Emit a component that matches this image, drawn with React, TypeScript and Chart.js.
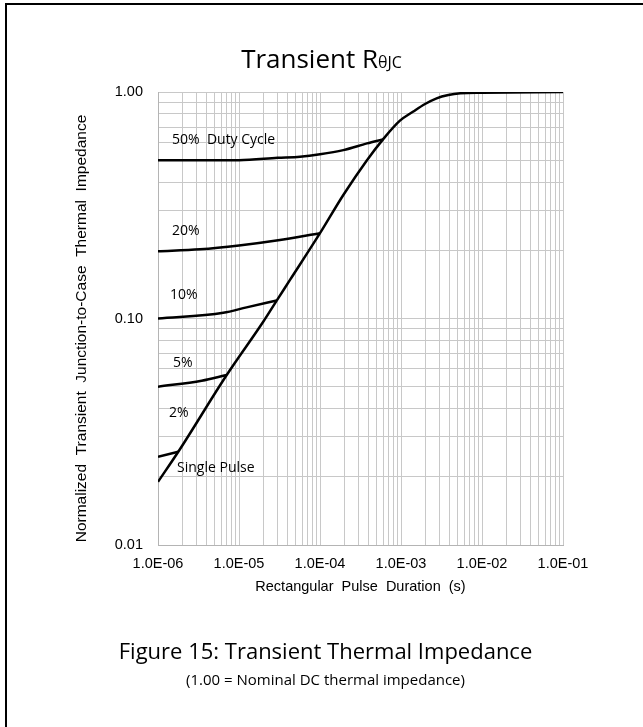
import React, { useEffect, useRef } from "react";
import { Chart, registerables } from "chart.js";

Chart.register(...registerables);

// ---- tick definitions ----
const X_DECADES = [1e-6, 1e-5, 1e-4, 1e-3, 1e-2, 1e-1];
const X_TICK_LABELS = ["1.0E-06", "1.0E-05", "1.0E-04", "1.0E-03", "1.0E-02", "1.0E-01"];
const Y_DECADES = [0.01, 0.1, 1];
const Y_TICK_LABELS = ["0.01", "0.10", "1.00"];
const MINOR_STEPS = [2, 3, 4, 5, 6, 7, 8, 9];

// ---- series (pulse duration s, normalized Zth) ----
const SINGLE_T = [1e-6, 1.78e-6, 7.05e-6, 2.0e-5, 2.92e-5, 4.26e-5, 1e-4, 1.94e-4, 3.8e-4, 6.0e-4, 9.7e-4, 1.42e-3, 1.98e-3, 2.75e-3, 3.84e-3, 5.4e-3, 1e-2, 1e-1];
const SINGLE_Z = [0.019, 0.0258, 0.0563, 0.097, 0.12, 0.148, 0.238, 0.351, 0.5, 0.618, 0.747, 0.82, 0.885, 0.938, 0.97, 0.987, 0.993, 1.0];

const D50_T = [1e-6, 1e-5, 3e-5, 5.66e-5, 1e-4, 1.94e-4, 3.8e-4, 6.0e-4];
const D50_Z = [0.5, 0.5, 0.512, 0.518, 0.531, 0.554, 0.593, 0.618];

const D20_T = [1e-6, 3.3e-6, 1e-5, 3.2e-5, 1e-4];
const D20_Z = [0.198, 0.202, 0.21, 0.222, 0.238];

const D10_T = [1e-6, 6.4e-6, 1.24e-5, 2.92e-5];
const D10_Z = [0.1, 0.106, 0.112, 0.12];

const D5_T = [1e-6, 3.46e-6, 7.05e-6];
const D5_Z = [0.05, 0.0531, 0.0563];

const D2_T = [1e-6, 1.78e-6];
const D2_Z = [0.0245, 0.0258];

// ---- curve annotations ----
const CURVE_LABELS = ["50%  Duty Cycle", "20%", "10%", "5%", "2%", "Single Pulse"];
const LABEL_T = [1.49e-6, 1.49e-6, 1.41e-6, 1.53e-6, 1.37e-6, 1.72e-6];
const LABEL_Z = [0.614, 0.243, 0.127, 0.0636, 0.0383, 0.0219];

const TITLE_MAIN = "Transient R";
const TITLE_SUB = "θJC";
const X_TITLE = "Rectangular  Pulse  Duration  (s)";
const Y_TITLE = "Normalized  Transient  Junction-to-Case  Thermal  Impedance";
const CAPTION = "Figure 15: Transient Thermal Impedance";
const SUBCAPTION = "(1.00 = Nominal DC thermal impedance)";

const AXIS_FONT = '"Liberation Sans", Arial, sans-serif';

function logTicks(decades: number[]) {
  const out: { value: number }[] = [];
  for (let i = 0; i < decades.length - 1; i++) {
    out.push({ value: decades[i] });
    for (const m of MINOR_STEPS) out.push({ value: parseFloat((decades[i] * m).toPrecision(4)) });
  }
  out.push({ value: decades[decades.length - 1] });
  return out;
}

function labelFor(value: number, decades: number[], labels: string[]) {
  for (let i = 0; i < decades.length; i++) {
    if (Math.abs(value / decades[i] - 1) < 1e-6) return labels[i];
  }
  return "";
}

function pts(t: number[], z: number[]) {
  return t.map((v, i) => ({ x: v, y: z[i] }));
}

const curveLabelPlugin = {
  id: "curveLabels",
  afterDatasetsDraw(chart: any) {
    const { ctx, scales } = chart;
    const xs = scales.x;
    const ys = scales.y;
    ctx.save();
    ctx.font = '14px "Open Sans"';
    ctx.fillStyle = "#000";
    ctx.textAlign = "left";
    ctx.textBaseline = "middle";
    CURVE_LABELS.forEach((txt, i) => {
      ctx.fillText(txt, xs.getPixelForValue(LABEL_T[i]), ys.getPixelForValue(LABEL_Z[i]));
    });
    // y-axis title (slightly below the plot's centre, as in the original)
    const ca = chart.chartArea;
    ctx.translate(82, (ca.top + ca.bottom) / 2 + 10);
    ctx.rotate(-Math.PI / 2);
    ctx.font = "15.5px " + AXIS_FONT;
    ctx.textAlign = "center";
    ctx.fillText(Y_TITLE, 0, 0);
    ctx.restore();
  },
};

export default function App() {
  const ref = useRef<HTMLCanvasElement | null>(null);

  useEffect(() => {
    if (!ref.current) return;
    const series = [
      pts(D50_T, D50_Z),
      pts(D20_T, D20_Z),
      pts(D10_T, D10_Z),
      pts(D5_T, D5_Z),
      pts(D2_T, D2_Z),
      pts(SINGLE_T, SINGLE_Z),
    ];
    const chart = new Chart(ref.current, {
      type: "line",
      data: {
        datasets: series.map((d) => ({
          data: d,
          borderColor: "#000",
          borderWidth: 2.5,
          pointRadius: 0,
          fill: false,
          cubicInterpolationMode: "monotone" as const,
        })),
      },
      options: {
        responsive: false,
        animation: false,
        events: [],
        layout: { padding: { top: 92, right: 80, bottom: 122, left: 0 } },
        plugins: { legend: { display: false }, title: { display: false }, tooltip: { enabled: false } },
        scales: {
          x: {
            type: "logarithmic",
            min: 1e-6,
            max: 1e-1,
            afterBuildTicks: (s: any) => {
              s.ticks = logTicks(X_DECADES);
            },
            afterFit: (s: any) => {
              s.height = 60;
            },
            ticks: {
              autoSkip: false,
              maxRotation: 0,
              minRotation: 0,
              padding: 10,
              color: "#000",
              font: { family: AXIS_FONT, size: 14.5 },
              callback: (v: any) => labelFor(Number(v), X_DECADES, X_TICK_LABELS),
            },
            grid: { color: "#c8c8c8", lineWidth: 1, drawTicks: false },
            border: { display: true, color: "#b4b4b4", width: 1 },
            title: {
              display: true,
              text: X_TITLE,
              color: "#000",
              font: { family: AXIS_FONT, size: 14.5 },
              padding: { top: 0, bottom: 9.3 },
            },
          },
          y: {
            type: "logarithmic",
            min: 0.01,
            max: 1,
            afterBuildTicks: (s: any) => {
              s.ticks = logTicks(Y_DECADES);
            },
            afterFit: (s: any) => {
              s.width = 158;
            },
            ticks: {
              autoSkip: false,
              padding: 15,
              color: "#000",
              font: { family: AXIS_FONT, size: 14.5 },
              callback: (v: any) => labelFor(Number(v), Y_DECADES, Y_TICK_LABELS),
            },
            grid: { color: "#c8c8c8", lineWidth: 1, drawTicks: false },
            border: { display: true, color: "#b4b4b4", width: 1 },
            title: { display: false },
          },
        },
      },
      plugins: [curveLabelPlugin],
    } as any);
    return () => chart.destroy();
  }, []);

  const textFont = '"Open Sans", "Noto Sans", sans-serif';

  return (
    <div
      style={{
        position: "fixed",
        left: 0,
        top: 0,
        width: 643,
        height: 727,
        background: "#fff",
        overflow: "hidden",
      }}
    >
      <div
        style={{
          position: "absolute",
          left: 5,
          top: 3,
          width: 700,
          height: 800,
          borderLeft: "2px solid #000",
          borderTop: "2px solid #000",
          boxSizing: "border-box",
        }}
      />
      <canvas
        ref={ref}
        width={643}
        height={727}
        style={{ position: "absolute", left: 0, top: 0, width: 643, height: 727 }}
      />
      <div
        style={{
          position: "absolute",
          left: 0,
          top: 44.9,
          width: 643,
          textAlign: "center",
          fontFamily: textFont,
          fontSize: 26,
          lineHeight: "26px",
          color: "#000",
          whiteSpace: "nowrap",
        }}
      >
        {TITLE_MAIN}
        <span style={{ fontSize: 16, lineHeight: 1 }}>{TITLE_SUB}</span>
      </div>
      <div
        style={{
          position: "absolute",
          left: 4,
          top: 638.5,
          width: 643,
          textAlign: "center",
          fontFamily: textFont,
          fontSize: 22,
          lineHeight: "22px",
          color: "#000",
          whiteSpace: "nowrap",
        }}
      >
        {CAPTION}
      </div>
      <div
        style={{
          position: "absolute",
          left: 4,
          top: 671.7,
          width: 643,
          textAlign: "center",
          fontFamily: textFont,
          fontSize: 15,
          lineHeight: "15px",
          color: "#000",
          whiteSpace: "nowrap",
        }}
      >
        {SUBCAPTION}
      </div>
    </div>
  );
}
